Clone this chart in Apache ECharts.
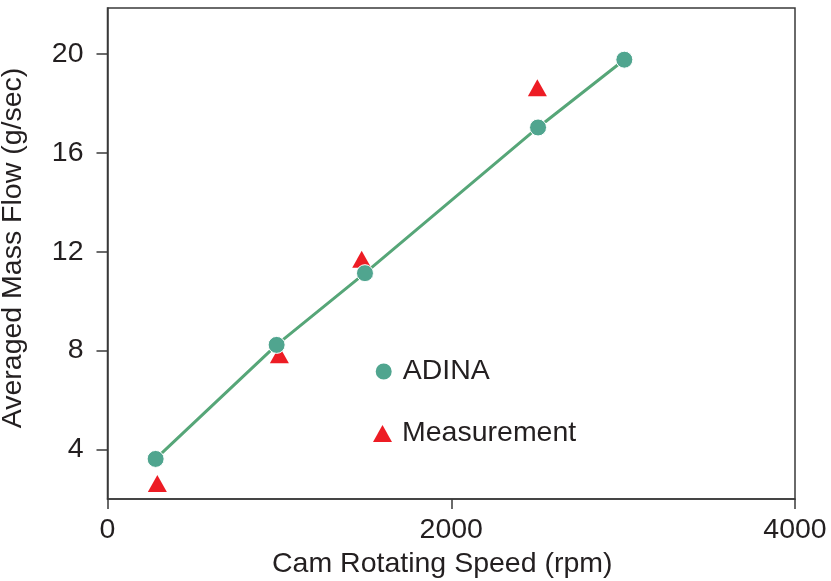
<!DOCTYPE html>
<html>
<head>
<meta charset="utf-8">
<script src="https://cdn.jsdelivr.net/npm/echarts@6/dist/echarts.min.js"></script>
<style>
html,body{margin:0;padding:0;background:#fff;}
#chart{width:831px;height:581px;}
</style>
</head>
<body>
<div id="chart"></div>
<script>
var adinaSpeed = [280, 984, 1498, 2505, 3007];
var adinaFlow = [3.62, 8.23, 11.13, 17.02, 19.76];
var measSpeed = [290, 1000, 1479, 2501];
var measFlow = [2.63, 7.83, 11.69, 18.63];
var xTicks = [0, 2000, 4000];
var yTicks = [4, 8, 12, 16, 20];

var FONT = '"Liberation Sans", Arial, sans-serif';
var FS = 28.5;
var TXT = '#231f20';
var AX = '#3a3a3a';
var adinaPts = adinaSpeed.map(function(x, i){ return [x, adinaFlow[i]]; });
var measPts = measSpeed.map(function(x, i){ return [x, measFlow[i]]; });

var chart = echarts.init(document.getElementById('chart'), null, {renderer: 'canvas'});
chart.setOption({
  animation: false,
  backgroundColor: '#ffffff',
  grid: {left: 107.5, right: 36, top: 8, bottom: 82, show: true, borderColor: AX, borderWidth: 1.5,
         containLabel: false, outerBoundsMode: 'none'},
  xAxis: {
    type: 'value', min: 0, max: 4000, interval: 2000,
    name: 'Cam Rotating Speed (rpm)', nameLocation: 'middle', nameGap: 50,
    nameTextStyle: {fontFamily: FONT, fontSize: FS, color: TXT, padding: [0, 18, 0, 0]},
    axisLine: {show: true, onZero: false, lineStyle: {color: AX, width: 1.5}},
    axisTick: {show: true, inside: false, length: 10, lineStyle: {color: AX, width: 1.5}},
    axisLabel: {fontFamily: FONT, fontSize: FS, color: TXT, margin: 17,
      customValues: xTicks, formatter: function(v){ return String(v); }},
    splitLine: {show: false}
  },
  yAxis: {
    type: 'value', min: 2, max: 21.85,
    name: 'Averaged Mass Flow (g/sec)', nameLocation: 'middle', nameGap: 80,
    nameTextStyle: {fontFamily: FONT, fontSize: FS, color: TXT, padding: [0, 0, 0, 11]},
    axisLine: {show: true, onZero: false, lineStyle: {color: AX, width: 1.5}},
    axisTick: {show: true, inside: false, length: 11, lineStyle: {color: AX, width: 1.5}, customValues: yTicks},
    axisLabel: {fontFamily: FONT, fontSize: FS, color: TXT, margin: 24, customValues: yTicks,
      formatter: function(v){ return String(v); }},
    splitLine: {show: false}
  },
  legend: [
    {data: ['ADINA'], orient: 'vertical', left: 368.7, top: 352, itemWidth: 18, itemHeight: 18, itemGap: 10,
     textStyle: {fontFamily: FONT, fontSize: FS, color: TXT, padding: [0,0,0,5]}},
    {data: ['Measurement'], orient: 'vertical', left: 368, top: 414, itemWidth: 19, itemHeight: 17, itemGap: 10,
     textStyle: {fontFamily: FONT, fontSize: FS, color: TXT, padding: [0,0,0,5]}}
  ],
  series: [
    {name: 'fit', type: 'line', data: adinaPts, showSymbol: false, symbol: 'none',
     lineStyle: {color: '#56a678', width: 3, opacity: 1}, z: 1, silent: true},
    {name: 'Measurement', type: 'scatter', data: measPts, symbol: 'triangle', symbolSize: [19, 17],
     itemStyle: {color: '#ed1c24', opacity: 1}, z: 2},
    {name: 'ADINA', type: 'scatter', data: adinaPts, symbol: 'circle', symbolSize: 17,
     itemStyle: {color: '#50a58f', borderColor: '#ffffff', borderWidth: 1, opacity: 1}, z: 3}
  ]
});
</script>
</body>
</html>
